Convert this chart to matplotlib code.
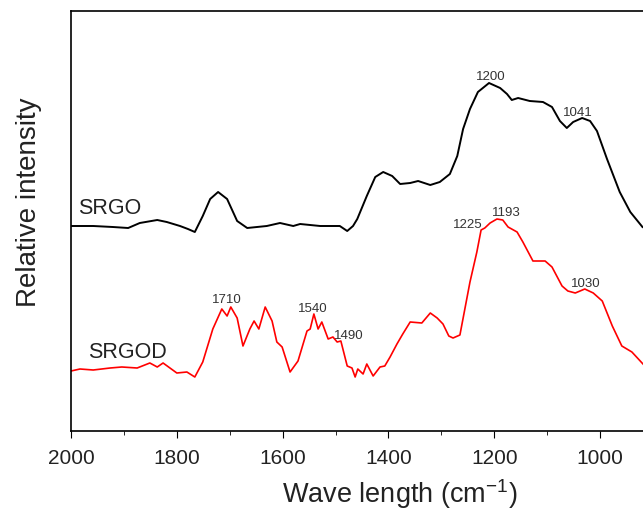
import matplotlib
matplotlib.use("Agg")
import matplotlib.pyplot as plt
from matplotlib.ticker import MultipleLocator

plt.rcParams['font.family'] = ['Liberation Sans', 'DejaVu Sans']
plt.rcParams['mathtext.fontset'] = 'custom'
plt.rcParams['mathtext.rm'] = 'Liberation Sans'
plt.rcParams['mathtext.default'] = 'rm'

# SRGO (black) - wavenumber / relative intensity
srgo_wn = [1998, 1958, 1921, 1892, 1870, 1837, 1819, 1794, 1779, 1766, 1751, 1737,
           1722, 1705, 1686, 1667, 1630, 1605, 1580, 1567, 1529, 1492, 1478, 1467,
           1459, 1441, 1425, 1410, 1393, 1378, 1359, 1344, 1321, 1303, 1284, 1270,
           1259, 1246, 1231, 1210, 1189, 1176, 1167, 1155, 1133, 1108, 1091, 1076,
           1063, 1051, 1034, 1019, 1006, 987, 963, 943, 920]
srgo_int = [205, 205, 204, 203, 208, 211, 209, 205, 202, 199, 215, 232,
            239, 232, 210, 203, 205, 208, 205, 207, 205, 205, 200, 205,
            212, 235, 254, 259, 255, 247, 248, 250, 246, 249, 257, 275,
            302, 322, 339, 348, 343, 337, 331, 333, 330, 329, 324, 310,
            303, 309, 313, 310, 300, 272, 239, 219, 204]

# SRGOD (red)
srgod_wn = [2000, 1983, 1958, 1926, 1904, 1875, 1851, 1837, 1826, 1813, 1800, 1781,
            1766, 1751, 1732, 1715, 1705, 1698, 1686, 1675, 1662, 1654, 1645, 1633,
            1620, 1611, 1601, 1586, 1571, 1554, 1548, 1541, 1533, 1526, 1514, 1505,
            1497, 1490, 1478, 1469, 1463, 1458, 1448, 1441, 1429, 1416, 1407, 1397,
            1384, 1373, 1359, 1337, 1321, 1308, 1297, 1286, 1278, 1265, 1246, 1233,
            1225, 1218, 1208, 1195, 1184, 1174, 1157, 1146, 1127, 1104, 1091, 1072,
            1061, 1047, 1029, 1013, 996, 977, 959, 940, 919]
srgod_int = [60, 62, 61, 63, 64, 63, 68, 64, 68, 63, 58, 59,
             54, 69, 102, 122, 115, 124, 113, 85, 102, 110, 102, 124,
             110, 89, 84, 59, 70, 100, 102, 117, 102, 109, 92, 94,
             89, 90, 65, 63, 54, 62, 57, 67, 55, 64, 65, 74,
             87, 97, 109, 108, 118, 113, 107, 95, 93, 96, 149, 179,
             201, 203, 208, 212, 211, 204, 199, 189, 170, 170, 164, 145,
             140, 138, 142, 138, 130, 105, 85, 79, 67]

# peak labels: text, x, y
peak_labels = ['1710', '1540', '1490', '1200', '1041', '1225', '1193', '1030']
peak_x = [1705, 1543, 1475, 1206, 1042, 1251, 1178, 1027]
peak_y = [132, 123, 96, 355, 319, 207, 219, 148]

fig = plt.figure(figsize=(6.43, 5.10), dpi=100)
ax = fig.add_axes([71/643, 78/510, 1 - 71/643, 420/510])

ax.plot(srgo_wn, srgo_int, color='black', lw=1.4)
ax.plot(srgod_wn, srgod_int, color='#ff0000', lw=1.2)

ax.text(1987, 223, 'SRGO', fontsize=15.5, va='center', ha='left', color='#222222')
ax.text(1968, 79, 'SRGOD', fontsize=15.5, va='center', ha='left', color='#222222')
for t, x, y in zip(peak_labels, peak_x, peak_y):
    ax.text(x, y, t, fontsize=9.5, ha='center', va='center', color='#333333')

ax.set_xlim(2000, 919)
ax.set_ylim(0, 420)
ax.xaxis.set_major_locator(MultipleLocator(200))
ax.xaxis.set_minor_locator(MultipleLocator(100))
ax.tick_params(axis='x', which='major', direction='out', length=5, labelsize=15, pad=7,
               labelcolor='#222222')
ax.tick_params(axis='x', which='minor', direction='out', length=3)
ax.set_yticks([])
ax.spines['right'].set_visible(False)
for s in ['left', 'bottom', 'top']:
    ax.spines[s].set_linewidth(1.2)

ax.set_xlabel('Wave length (cm$^{-1}$)', fontsize=19.5, color='#222222')
ax.xaxis.set_label_coords(0.575, -0.107)
ax.set_ylabel('Relative intensity', fontsize=20, color='#222222')
ax.yaxis.set_label_coords(-0.05, 0.548)

fig.savefig('out.png', dpi=100)
